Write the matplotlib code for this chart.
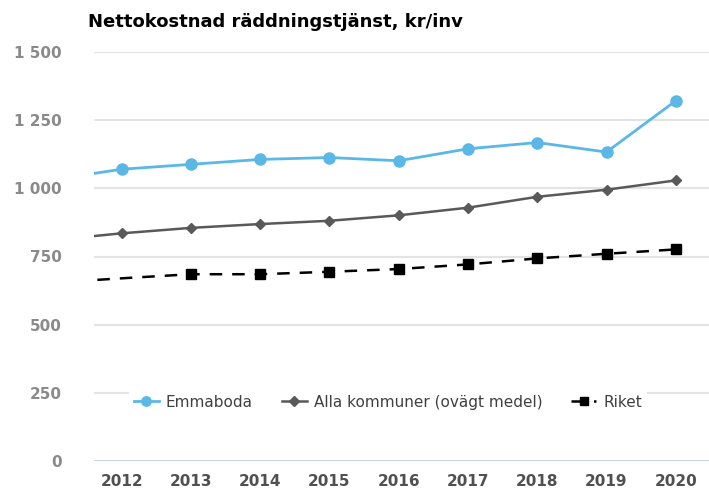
import matplotlib
matplotlib.use("Agg")
import matplotlib.pyplot as plt

years = [2011, 2012, 2013, 2014, 2015, 2016, 2017, 2018, 2019, 2020]
emmaboda = [1032, 1070, 1088, 1106, 1113, 1101, 1145, 1168, 1133, 1321]
alla = [810, 835, 855, 869, 881, 901, 929, 969, 995, 1029]
riket = [654, 670, 685, 685, 694, 704, 721, 743, 760, 776]
xticks = [2012, 2013, 2014, 2015, 2016, 2017, 2018, 2019, 2020]
yticks = [0, 250, 500, 750, 1000, 1250, 1500]
ylabels = ["0", "250", "500", "750", "1 000", "1 250", "1 500"]

fig = plt.figure(figsize=(7.09, 4.91), dpi=100)
ax = fig.add_axes([94/709, 30/491, 615/709, 409/491])

blue = "#5bb8e6"
gray = "#595959"

ax.plot(years, emmaboda, color=blue, lw=2.0, marker="o", ms=8,
        markevery=list(range(1, 10)), label="Emmaboda", zorder=3)
ax.plot(years, alla, color=gray, lw=1.8, marker="D", ms=5.5,
        markevery=list(range(1, 10)), label="Alla kommuner (ovägt medel)", zorder=3)
ax.plot(years, riket, color="black", lw=1.8, ls=(0, (5, 4)), marker="s", ms=7.5,
        markevery=list(range(2, 10)), label="Riket", zorder=3)

ax.set_xlim(2011.6, 2020.48)
ax.set_ylim(0, 1500)
ax.set_yticks(yticks)
ax.set_yticklabels(ylabels)
ax.set_xticks(xticks)
ax.set_xticklabels([str(y) for y in xticks])

for v in yticks[1:]:
    ax.axhline(v, color="#e3e3e3", lw=1.5, zorder=1)
ax.axhline(0, color="#c5d6ea", lw=1.5, zorder=1)

for s in ax.spines.values():
    s.set_visible(False)
ax.tick_params(axis="both", length=0)
ax.tick_params(axis="y", pad=23, labelsize=11, labelcolor="#8a8a8a")
ax.tick_params(axis="x", pad=9, labelsize=11, labelcolor="#505050")
for lab in ax.get_yticklabels() + ax.get_xticklabels():
    lab.set_fontfamily("DejaVu Sans")
    lab.set_fontweight("bold")

leg = ax.legend(loc="center", bbox_to_anchor=(0.478, 0.144), ncol=3, frameon=True,
                framealpha=1, edgecolor="white", facecolor="white",
                prop={"family": "DejaVu Sans", "size": 11},
                handlelength=1.64, columnspacing=1.9, handletextpad=0.45,
                borderpad=0.3, markerscale=0.85)
leg.get_frame().set_linewidth(0)
for t in leg.get_texts():
    t.set_color("#404040")

fig.text(88/709, 1 - 22/491, "Nettokostnad räddningstjänst, kr/inv",
         fontfamily="DejaVu Sans", fontweight="bold", fontsize=13,
         color="black", va="center", ha="left")

fig.savefig("out.png", dpi=100)
